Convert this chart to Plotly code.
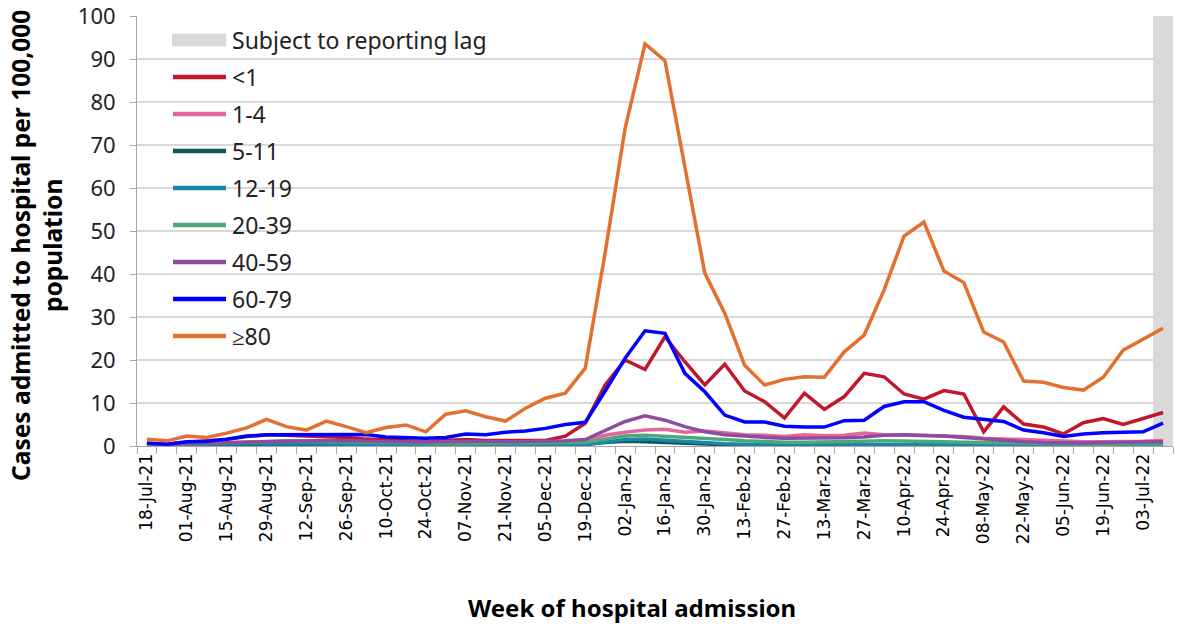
import plotly.graph_objects as go

weeks = ["18-Jul-21", "25-Jul-21", "01-Aug-21", "08-Aug-21", "15-Aug-21", "22-Aug-21",
         "29-Aug-21", "05-Sep-21", "12-Sep-21", "19-Sep-21", "26-Sep-21", "03-Oct-21",
         "10-Oct-21", "17-Oct-21", "24-Oct-21", "31-Oct-21", "07-Nov-21", "14-Nov-21",
         "21-Nov-21", "28-Nov-21", "05-Dec-21", "12-Dec-21", "19-Dec-21", "26-Dec-21",
         "02-Jan-22", "09-Jan-22", "16-Jan-22", "23-Jan-22", "30-Jan-22", "06-Feb-22",
         "13-Feb-22", "20-Feb-22", "27-Feb-22", "06-Mar-22", "13-Mar-22", "20-Mar-22",
         "27-Mar-22", "03-Apr-22", "10-Apr-22", "17-Apr-22", "24-Apr-22", "01-May-22",
         "08-May-22", "15-May-22", "22-May-22", "29-May-22", "05-Jun-22", "12-Jun-22",
         "19-Jun-22", "26-Jun-22", "03-Jul-22", "10-Jul-22"]

lt1 = [0.5, 0.4, 0.9, 1.1, 1.5, 2.2, 2.6, 2.5, 2.4, 2.3, 2.0, 1.6, 1.4, 1.3, 1.0, 1.3,
       1.5, 1.3, 1.2, 1.3, 1.3, 2.3, 5.3, 14.2, 20.0, 17.8, 25.4, 19.6, 14.2, 19.0, 12.8,
       10.3, 6.5, 12.3, 8.5, 11.5, 16.9, 16.1, 12.1, 10.9, 12.9, 12.1, 3.3, 9.1, 5.1, 4.4,
       2.8, 5.4, 6.4, 5.0, 6.4, 7.8]
a1_4 = [0.3, 0.3, 0.4, 0.4, 0.5, 0.6, 0.7, 0.7, 0.8, 0.8, 0.8, 0.8, 0.7, 0.7, 0.7, 0.8,
        0.8, 0.8, 0.7, 0.7, 0.7, 0.8, 1.2, 2.5, 3.2, 3.7, 3.9, 3.2, 3.5, 3.0, 2.6, 2.5,
        2.2, 2.6, 2.4, 2.5, 3.0, 2.6, 2.5, 2.6, 2.4, 2.2, 1.8, 1.6, 1.5, 1.4, 1.1, 1.0,
        1.0, 1.0, 1.1, 1.3]
a5_11 = [0.1, 0.1, 0.2, 0.2, 0.2, 0.3, 0.3, 0.3, 0.3, 0.3, 0.3, 0.3, 0.3, 0.3, 0.3, 0.4,
         0.4, 0.4, 0.4, 0.4, 0.4, 0.4, 0.4, 0.8, 1.1, 1.0, 0.8, 0.6, 0.4, 0.3, 0.3, 0.2,
         0.2, 0.2, 0.2, 0.2, 0.3, 0.3, 0.3, 0.3, 0.3, 0.2, 0.2, 0.2, 0.2, 0.2, 0.2, 0.2,
         0.2, 0.2, 0.2, 0.2]
a12_19 = [0.2, 0.2, 0.3, 0.4, 0.5, 0.6, 0.7, 0.6, 0.5, 0.4, 0.4, 0.3, 0.3, 0.3, 0.3, 0.3,
          0.3, 0.3, 0.3, 0.3, 0.3, 0.3, 0.3, 0.9, 1.5, 1.6, 1.3, 1.0, 0.7, 0.5, 0.4, 0.3,
          0.3, 0.3, 0.3, 0.3, 0.4, 0.4, 0.4, 0.4, 0.3, 0.3, 0.3, 0.3, 0.2, 0.2, 0.2, 0.2,
          0.2, 0.3, 0.3, 0.3]
a20_39 = [0.3, 0.3, 0.5, 0.6, 0.8, 1.0, 1.2, 1.2, 1.1, 1.0, 0.9, 0.8, 0.7, 0.7, 0.6, 0.6,
          0.6, 0.6, 0.6, 0.6, 0.6, 0.7, 0.8, 1.6, 2.3, 2.5, 2.3, 2.0, 1.8, 1.5, 1.2, 1.0,
          0.9, 0.9, 0.9, 1.0, 1.1, 1.2, 1.2, 1.1, 1.0, 0.9, 0.8, 0.7, 0.6, 0.5, 0.4, 0.4,
          0.4, 0.5, 0.5, 0.5]
a40_59 = [0.5, 0.4, 0.6, 0.7, 0.8, 1.0, 1.2, 1.3, 1.3, 1.3, 1.2, 1.1, 1.0, 1.0, 0.9, 1.0,
          1.1, 1.1, 1.0, 1.0, 1.1, 1.2, 1.5, 3.7, 5.7, 7.0, 6.0, 4.5, 3.3, 2.6, 2.2, 2.0,
          1.8, 1.8, 1.8, 1.9, 2.1, 2.5, 2.6, 2.5, 2.3, 2.0, 1.6, 1.3, 1.0, 0.8, 0.7, 0.7,
          0.8, 0.9, 0.9, 1.0]
a60_79 = [0.7, 0.4, 1.0, 1.1, 1.6, 2.3, 2.6, 2.6, 2.6, 2.6, 2.5, 2.7, 2.1, 2.0, 1.8, 2.0,
          2.8, 2.6, 3.2, 3.5, 4.1, 5.0, 5.5, 12.8, 20.4, 26.8, 26.2, 16.9, 12.6, 7.2, 5.6,
          5.6, 4.6, 4.4, 4.4, 5.9, 6.0, 9.2, 10.3, 10.3, 8.3, 6.7, 6.2, 5.7, 3.7, 3.1, 2.2,
          2.8, 3.1, 3.3, 3.3, 5.3]
a80 = [1.6, 1.2, 2.3, 2.0, 3.0, 4.2, 6.2, 4.5, 3.7, 5.8, 4.5, 3.1, 4.3, 4.9, 3.3, 7.4,
       8.2, 6.8, 5.8, 8.8, 11.1, 12.3, 18.1, 45.0, 73.9, 93.5, 89.6, 65.0, 40.2, 30.9, 18.8,
       14.2, 15.5, 16.1, 16.0, 21.9, 25.8, 36.3, 48.8, 52.1, 40.7, 38.0, 26.5, 24.2, 15.1,
       14.8, 13.6, 13.0, 16.0, 22.3, 24.8, 27.4]

series_names = ["<1", "1-4", "5-11", "12-19", "20-39", "40-59", "60-79", "≥80"]
series_values = [lt1, a1_4, a5_11, a12_19, a20_39, a40_59, a60_79, a80]
series_colors = ["#C0172D", "#E8649C", "#0D5A5A", "#1A86A8", "#4BA97C", "#8A4DA0",
                 "#0000FF", "#E3702F"]
lag_label = "Subject to reporting lag"
lag_weeks = ["10-Jul-22"]
y_title = "Cases admitted to hospital per 100,000<br>population"
x_title = "Week of hospital admission"
y_max = 100

FONT = "Noto Sans"
xi = list(range(len(weeks)))

fig = go.Figure()

# reporting-lag band
lag_idx = [weeks.index(w) for w in lag_weeks]
fig.add_trace(go.Bar(x=lag_idx, y=[y_max] * len(lag_idx), width=1,
                     marker=dict(color="#D9D9D9", line=dict(width=0)),
                     showlegend=False, hoverinfo="skip"))

for name, vals, col in zip(series_names, series_values, series_colors):
    fig.add_trace(go.Scatter(x=xi, y=vals, mode="lines", name=name,
                             line=dict(color=col, width=3.5), showlegend=False))

FIG_W, FIG_H = 1180, 624
# plot area in pixels
L, R, T, B = 137, 1173, 16, 446
W, H = R - L, B - T
def px(x):
    return (x - L) / W
def py(y):
    return (B - y) / H

shapes = []
annots = []
rows_y = [40 + 37.0 * k for k in range(len(series_names) + 1)]
shapes.append(dict(type="rect", xref="paper", yref="paper", x0=px(172), x1=px(226),
                   y0=py(rows_y[0] + 6.5), y1=py(rows_y[0] - 6.5),
                   fillcolor="#D9D9D9", line=dict(width=0)))
annots.append(dict(xref="paper", yref="paper", x=px(230), y=py(rows_y[0]), text=lag_label,
                   showarrow=False, xanchor="left", yanchor="middle",
                   font=dict(family=FONT, size=23, color="#222222")))
for k, (name, col) in enumerate(zip(series_names, series_colors)):
    yy = rows_y[k + 1]
    shapes.append(dict(type="line", xref="paper", yref="paper", x0=px(173), x1=px(226),
                       y0=py(yy), y1=py(yy), line=dict(color=col, width=4.5)))
    annots.append(dict(xref="paper", yref="paper", x=px(230), y=py(yy), text=name,
                       showarrow=False, xanchor="left", yanchor="middle",
                       font=dict(family=FONT, size=23, color="#222222")))

# axis titles
annots.append(dict(xref="paper", yref="paper", x=px(36), y=py(246), text="<b>" + y_title + "</b>",
                   textangle=-90, showarrow=False, xanchor="center", yanchor="middle",
                   font=dict(family=FONT, size=24.5, color="#000000")))
annots.append(dict(xref="paper", yref="paper", x=px(632), y=py(607), text="<b>" + x_title + "</b>",
                   showarrow=False, xanchor="center", yanchor="middle",
                   font=dict(family=FONT, size=24, color="#000000")))

fig.update_layout(
    width=FIG_W, height=FIG_H,
    margin=dict(l=L, r=FIG_W - R, t=T, b=FIG_H - B),
    paper_bgcolor="white", plot_bgcolor="white",
    showlegend=False,
    shapes=shapes, annotations=annots,
    xaxis=dict(
        range=[-0.5, len(weeks) - 0.5], automargin=False,
        tickvals=xi[::2], ticktext=weeks[::2],
        tickangle=-90, ticks="", showgrid=False,
        tickfont=dict(family="DejaVu Sans", size=17, color="#000000"),
        showline=True, linecolor="#A6A6A6", linewidth=1,
        minor=dict(tick0=-0.5, dtick=1, ticks="outside", ticklen=7,
                   tickcolor="#A6A6A6", showgrid=False),
        zeroline=False, ticklabeloverflow="allow",
    ),
    yaxis=dict(
        range=[0, y_max], dtick=10, automargin=False,
        ticks="outside", ticklen=6, tickcolor="#A6A6A6",
        ticklabelstandoff=10, ticklabeloverflow="allow",
        tickfont=dict(family=FONT, size=22, color="#222222"),
        showgrid=True, gridcolor="#D9D9D9", gridwidth=1.5,
        showline=True, linecolor="#A6A6A6", linewidth=1,
        zeroline=False,
    ),
)

# remove the browser's default 8px page margin so the figure fills the window
fig.write_html("out.html", config={"displayModeBar": False},
               post_script="document.body.style.margin='0px';document.body.style.overflow='hidden';")
